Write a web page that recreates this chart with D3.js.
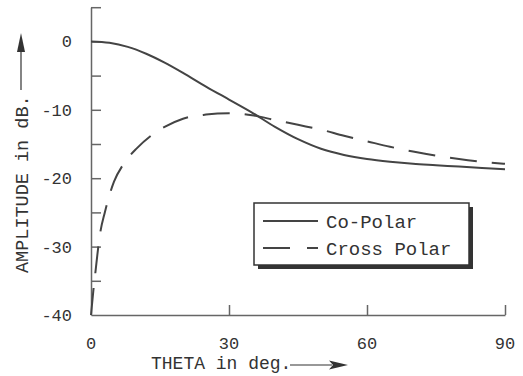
<!DOCTYPE html>
<html>
<head>
<meta charset="utf-8">
<script src="https://cdn.jsdelivr.net/npm/d3@7"></script>
<style>
  html, body { margin: 0; padding: 0; background: #fff; }
  svg { display: block; }
  text { font-family: "Liberation Mono", "DejaVu Sans Mono", monospace; fill: #333; }
</style>
</head>
<body>
<script>
// theta in degrees
const coTheta = [0, 4, 8, 12, 16, 20, 25, 30, 35, 40, 45, 50, 55, 60, 65, 70, 75, 80, 85, 90];
const coAmp   = [0, -0.2, -0.8, -1.8, -3.1, -4.6, -6.6, -8.5, -10.4, -12.5, -14.3, -15.7, -16.6, -17.2, -17.6, -17.9, -18.1, -18.3, -18.5, -18.7];

const xTheta = [0, 0.5, 1, 1.5, 2, 3, 4, 5, 7, 10, 13, 16, 20, 25, 30, 35, 40, 45, 50, 55, 60, 65, 70, 75, 80, 85, 90];
const xAmp   = [-40, -36.5, -33.5, -30.5, -28, -25, -22.5, -20.5, -18, -15.6, -13.8, -12.5, -11.3, -10.7, -10.5, -10.8, -11.5, -12.2, -12.9, -13.8, -14.6, -15.4, -16.1, -16.7, -17.2, -17.6, -17.9];

const yTickLabels = [0, -10, -20, -30, -40];
const yMinorTicks = [5, 0, -5, -10, -15, -20, -25, -30, -35];
const xTickLabels = [0, 30, 60, 90];
const legendNames = ["Co-Polar", "Cross Polar"];

const width = 523, height = 376;
const svg = d3.select("body").append("svg")
    .attr("width", width)
    .attr("height", height);

const x = d3.scaleLinear().domain([0, 90]).range([91, 505]);
const y = d3.scaleLinear().domain([-40, 5]).range([315, 7.2]);

// axes
const yAxis = svg.append("g")
    .attr("transform", `translate(${x(0)},0)`)
    .call(d3.axisRight(y).tickValues(yMinorTicks).tickSize(10).tickSizeOuter(0).tickFormat(""));
const xAxis = svg.append("g")
    .attr("transform", `translate(0,${y(-40)})`)
    .call(d3.axisTop(x).tickValues([30, 60, 90]).tickSize(10).tickSizeOuter(0).tickFormat(""));
[yAxis, xAxis].forEach(g => {
    g.selectAll("path, line").attr("stroke", "#666").attr("stroke-width", 1.5);
});

// tick labels
svg.selectAll(".ylab")
    .data(yTickLabels)
    .enter().append("text")
    .attr("class", "ylab")
    .attr("x", 72)
    .attr("y", d => y(d))
    .attr("dy", "0.35em")
    .attr("text-anchor", "end")
    .style("font-size", "17px")
    .text(d => d);

svg.selectAll(".xlab")
    .data(xTickLabels)
    .enter().append("text")
    .attr("class", "xlab")
    .attr("x", d => x(d))
    .attr("y", 349)
    .attr("text-anchor", "middle")
    .style("font-size", "17px")
    .text(d => d);

// axis titles with arrows
svg.append("text")
    .attr("transform", "translate(28,273) rotate(-90)")
    .style("font-size", "18.5px")
    .text("AMPLITUDE in dB.");
svg.append("line")
    .attr("x1", 21).attr("y1", 90).attr("x2", 21).attr("y2", 50)
    .attr("stroke", "#333").attr("stroke-width", 1.2);
svg.append("path")
    .attr("d", "M21,33 L17,52 L25,52 Z")
    .attr("fill", "#333");

svg.append("text")
    .attr("x", 151)
    .attr("y", 369)
    .style("font-size", "18px")
    .text("THETA in deg.");
svg.append("line")
    .attr("x1", 290).attr("y1", 365).attr("x2", 332).attr("y2", 365)
    .attr("stroke", "#333").attr("stroke-width", 1.2);
svg.append("path")
    .attr("d", "M348,365 L329,360.5 L333,365 L329,369.5 Z")
    .attr("fill", "#333");

// curves
const line = d3.line()
    .x(d => x(d[0]))
    .y(d => y(d[1]));

svg.append("path")
    .datum(d3.zip(coTheta, coAmp))
    .attr("fill", "none")
    .attr("stroke", "#444")
    .attr("stroke-width", 2)
    .attr("d", line.curve(d3.curveCatmullRom.alpha(0.5)));

svg.append("path")
    .datum(d3.zip(xTheta, xAmp))
    .attr("fill", "none")
    .attr("stroke", "#444")
    .attr("stroke-width", 2)
    .attr("stroke-dasharray", "27,15")
    .attr("d", line.curve(d3.curveMonotoneX));

// legend
const lg = svg.append("g");
lg.append("rect")
    .attr("x", 258).attr("y", 207).attr("width", 215).attr("height", 62)
    .attr("fill", "#333");
lg.append("rect")
    .attr("x", 254).attr("y", 203).attr("width", 215).attr("height", 62)
    .attr("fill", "#fff").attr("stroke", "#333").attr("stroke-width", 1.5);

const rows = lg.selectAll(".row")
    .data(legendNames)
    .enter().append("g")
    .attr("transform", (d, i) => `translate(0,${221 + i * 27})`);
rows.append("line")
    .attr("x1", 263).attr("x2", 318)
    .attr("stroke", "#444").attr("stroke-width", 2)
    .attr("stroke-dasharray", (d, i) => i ? "27,17" : null);
rows.append("text")
    .attr("x", 326)
    .attr("y", 7)
    .style("font-size", "19px")
    .text(d => d);
</script>
</body>
</html>
